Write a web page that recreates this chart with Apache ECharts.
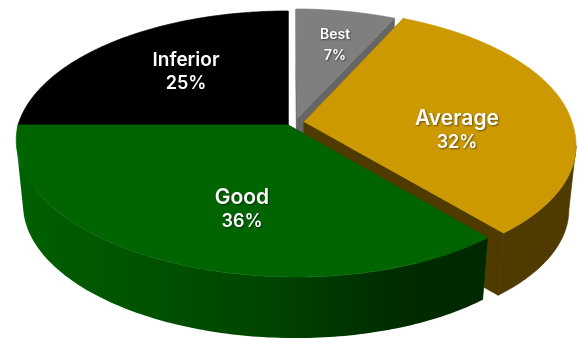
<!DOCTYPE html>
<html>
<head>
<meta charset="utf-8">
<style>html,body{margin:0;padding:0;background:#fff}#chart{width:578px;height:338px}</style>
<script src="https://cdn.jsdelivr.net/npm/echarts@6/dist/echarts.min.js"></script>
</head>
<body>
<div id="chart"></div>
<script>
// Share of ratings, clockwise from twelve o'clock
const categories = ['Best', 'Average', 'Good', 'Inferior'];
const shares = [7, 32, 36, 25];

// Back-to-front paint order of the slices
const paintOrder = ['Best', 'Inferior', 'Average', 'Good'];

const topColors = { Best: '#7f7f7f', Average: '#cc9900', Good: '#006400', Inferior: '#000000' };
const wallColors = { Best: '#666666', Average: '#4f3b00', Good: '#004000', Inferior: '#000000' };

// Pull-out of each slice on the disc plane, and its radius
const explode = {
  Best: { du: 0.034, dv: -0.05, r: 0.97 },
  Average: { du: 0.06, dv: -0.025, r: 0.995 },
  Good: { du: 0, dv: 0, r: 1 },
  Inferior: { du: 0, dv: 0, r: 1 }
};

// Label anchors and font sizes
const labelPlace = {
  Best: { x: 335, y: 45, name: 14, pct: 14, lead: 21 },
  Average: { x: 457, y: 131, name: 21, pct: 18, lead: 24 },
  Good: { x: 242, y: 210, name: 21, pct: 18, lead: 24 },
  Inferior: { x: 186, y: 72, name: 19, pct: 18, lead: 24 }
};

// Perspective view of the disc
const view = { cx: 288, cy: 125, ax: 270, by: 130.3, k: 1 / 7, skew: 8, shrink: 0.975, vanishY: 2720 };

function project(u, v, lower) {
  const d = 1 - view.k * v;
  const x = view.cx + view.ax * u / d + view.skew * Math.max(v, 0);
  const y = view.cy + view.by * v / d;
  if (!lower) return [x, y];
  const s = view.shrink;
  return [view.cx + s * (x - view.cx), view.vanishY + s * (y - view.vanishY)];
}

const total = shares.reduce((a, b) => a + b, 0);
const spans = {};
let running = 0;
categories.forEach((name, i) => {
  spans[name] = [running / total * Math.PI * 2, (running + shares[i]) / total * Math.PI * 2];
  running += shares[i];
});

// Points along a slice's outer edge; frontOnly keeps the part facing the viewer
function rim(name, lower, frontOnly) {
  const [a0, a1] = spans[name];
  const e = explode[name];
  const steps = Math.max(8, Math.round((a1 - a0) * 60));
  const pts = [];
  for (let i = 0; i <= steps; i++) {
    const a = a0 + (a1 - a0) * i / steps;
    const localV = -e.r * Math.cos(a);
    if (frontOnly && localV < view.k - e.dv) continue;
    pts.push(project(e.du + e.r * Math.sin(a), e.dv + localV, lower));
  }
  return pts;
}

function apex(name, lower) {
  const e = explode[name];
  return project(e.du, e.dv, lower);
}

// Same-colour stroke closes the hairlines between neighbouring faces
function poly(points, fill, stroke) {
  return {
    type: 'polygon',
    shape: { points },
    style: stroke ? { fill, stroke, lineWidth: 0.7, lineJoin: 'round' } : { fill },
    silent: true
  };
}

function renderSlice(params) {
  const name = paintOrder[params.dataIndex];
  const up = rim(name, false, false);
  const low = rim(name, true, false);
  const a = apex(name, false);
  const b = apex(name, true);
  const wall = wallColors[name];
  const shaded = name === 'Good';
  const outerFill = shaded
    ? { type: 'linear', x: 0, y: 0, x2: 1, y2: 0, colorStops: [
        { offset: 0, color: '#006000' },
        { offset: 0.55, color: '#004400' },
        { offset: 0.8, color: '#002c00' },
        { offset: 1, color: '#002800' }
      ] }
    : wall;
  const frontUp = rim(name, false, true);
  const frontLow = rim(name, true, true);
  const children = [
    poly([a, up[0], low[0], b], wall, wall),
    poly([a, up[up.length - 1], low[low.length - 1], b], wall, wall)
  ];
  if (frontUp.length > 1) {
    children.push(poly(frontUp.concat(frontLow.slice().reverse()), outerFill, shaded ? null : wall));
  }
  children.push(poly([a].concat(up), topColors[name], topColors[name]));
  const p = labelPlace[name];
  const value = shares[categories.indexOf(name)];
  [[name, p.name], [value + '%', p.pct]].forEach((line, i) => {
    children.push({
      type: 'text',
      silent: true,
      style: {
        x: p.x,
        y: p.y - p.lead / 2 + i * p.lead,
        text: line[0],
        fill: '#ffffff',
        align: 'center',
        verticalAlign: 'middle',
        font: '600 ' + line[1] + 'px Inter, sans-serif',
        textShadowColor: 'rgba(0,0,0,0.5)',
        textShadowBlur: 2,
        textShadowOffsetX: 1,
        textShadowOffsetY: 1
      }
    });
  });
  return { type: 'group', children };
}

const chart = echarts.init(document.getElementById('chart'), null, { renderer: 'canvas' });
chart.setOption({
  animation: false,
  backgroundColor: '#ffffff',
  series: [{
    type: 'custom',
    coordinateSystem: 'none',
    renderItem: renderSlice,
    data: paintOrder.map(name => shares[categories.indexOf(name)])
  }]
});
</script>
</body>
</html>
